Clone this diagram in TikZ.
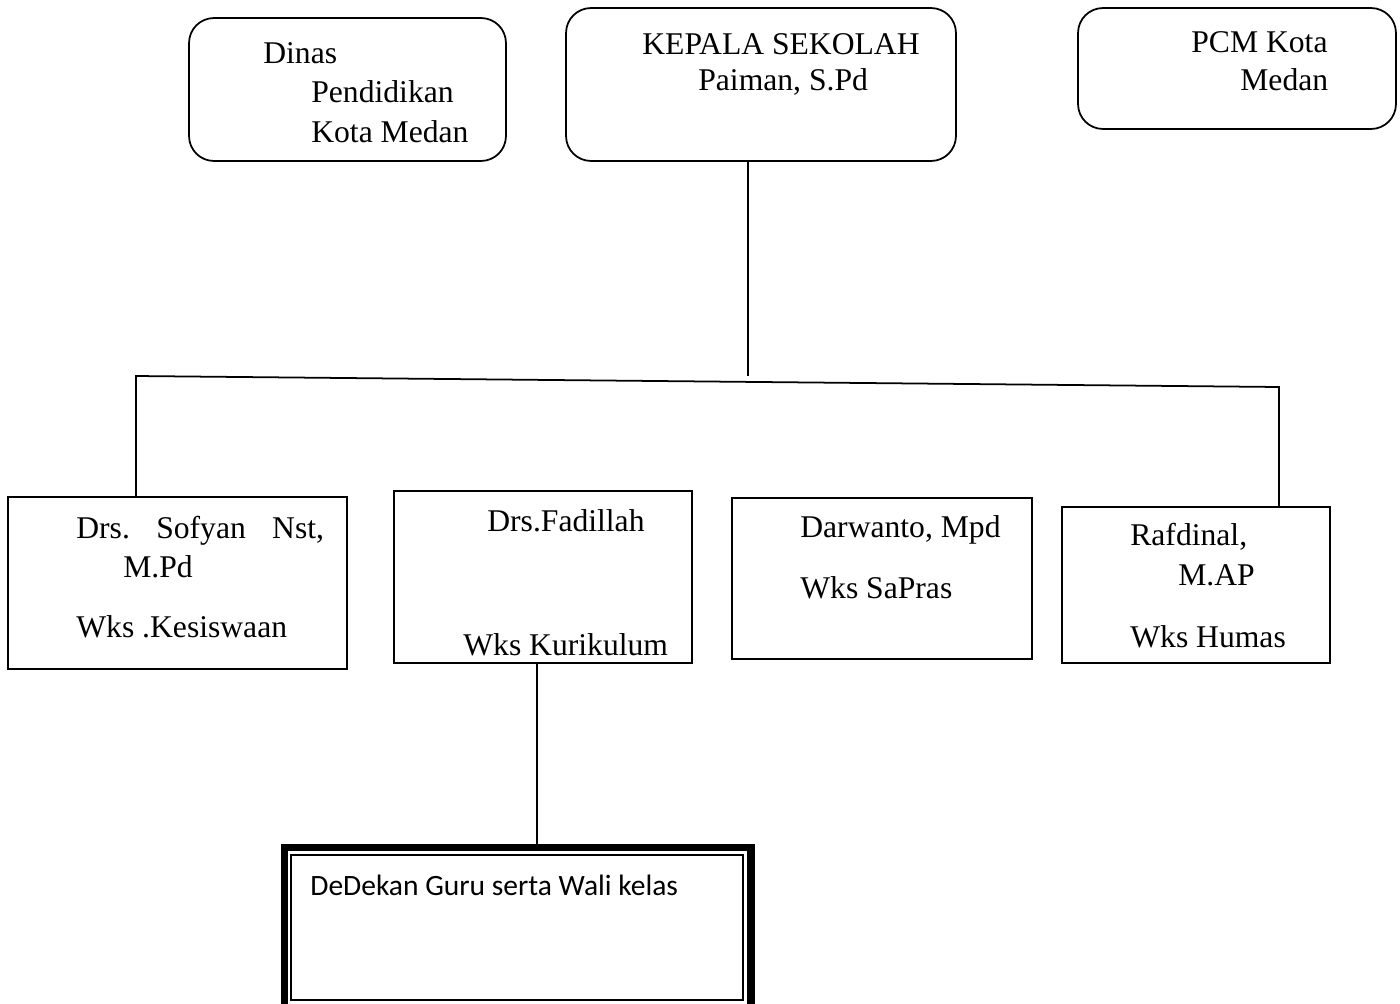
\documentclass[tikz,border=0pt]{standalone}
\usepackage{fontspec}
\setmainfont{Liberation Serif}
\newfontfamily\gurufont{Carlito}
\usetikzlibrary{calc}

\tikzset{
  unit/.style={draw, line width=1pt, rectangle, inner sep=0pt},
  roundunit/.style={unit, rounded corners=0.5cm},
  lbl/.style={anchor=base west, inner sep=0pt, font=\fontsize{18}{20}\selectfont},
  link/.style={line width=1pt}
}

\begin{document}
\begin{tikzpicture}[x=0.02cm, y=-0.02cm]
\useasboundingbox (0,0) rectangle (1400,1004);

% First, the three boxes on top
\node[roundunit, minimum width=6.34cm, minimum height=2.86cm] (dinas) at (347.5,89.5) {};
\node[roundunit, minimum width=7.8cm, minimum height=3.06cm] (kepala) at (761,84.5) {};
\node[roundunit, minimum width=6.36cm, minimum height=2.42cm] (pcm) at (1237,68.5) {};

\node[lbl] (dinas1) at (263,63) {Dinas};
\node[lbl] (dinas2) at (311,102) {Pendidikan};
\node[lbl] (dinas3) at (311,142) {Kota Medan};
\node[lbl] (kepala1) at (642,54) {KEPALA SEKOLAH};
\node[lbl] (kepala2) at (698,90) {Paiman, S.Pd};
\node[lbl] (pcm1) at (1191,52) {PCM Kota};
\node[lbl] (pcm2) at (1240,90) {Medan};

% the four Wks boxes
\node[unit, minimum width=6.78cm, minimum height=3.44cm] (sofyan) at (177.5,583) {};
\node[unit, minimum width=5.96cm, minimum height=3.44cm] (fadillah) at (543,577) {};
\node[unit, minimum width=6cm, minimum height=3.22cm] (darwanto) at (882,578.5) {};
\node[unit, minimum width=5.36cm, minimum height=3.12cm] (rafdinal) at (1196,585) {};

\node[lbl] (sofyan1) at (76,538) {Drs.\hspace{15pt}Sofyan\hspace{15pt}Nst,};
\node[lbl] (sofyan2) at (123,577) {M.Pd};
\node[lbl] (sofyan3) at (76,637) {Wks .Kesiswaan};
\node[lbl] (fadillah1) at (487,531) {Drs.Fadillah};
\node[lbl] (fadillah2) at (463,655) {Wks Kurikulum};
\node[lbl] (darwanto1) at (800,537) {Darwanto, Mpd};
\node[lbl] (darwanto2) at (800,598) {Wks SaPras};
\node[lbl] (rafdinal1) at (1130,545) {Rafdinal,};
\node[lbl] (rafdinal2) at (1178,585) {M.AP};
\node[lbl] (rafdinal3) at (1130,647) {Wks Humas};

% the teachers box, thick frame with a thin one inside
\node[draw, line width=4.2pt, inner sep=0pt, minimum width=9.33cm, minimum height=3.25cm] (guru) at (517.75,928.75) {};
\node[draw, line width=1pt, inner sep=0pt, minimum width=9.04cm, minimum height=2.9cm] (guruin) at (517,927.5) {};
\node[anchor=base west, inner sep=0pt, font=\gurufont\fontsize{16.8}{18}\selectfont] (guru1) at (310,895) {DeDekan Guru serta Wali kelas};

% Now the lines
\coordinate (top) at (748,376);
\coordinate (busL) at (136,376);
\coordinate (busR) at (1279,387);
\coordinate (down) at (537,840);

\draw[link] (top |- kepala.south) -- (top);
\draw[link] (sofyan.north -| busL) -- (busL) -- (busR) -- (rafdinal.north -| busR);
\draw[link] (down |- fadillah.south) -- (down |- guru.north);

\end{tikzpicture}
\end{document}
